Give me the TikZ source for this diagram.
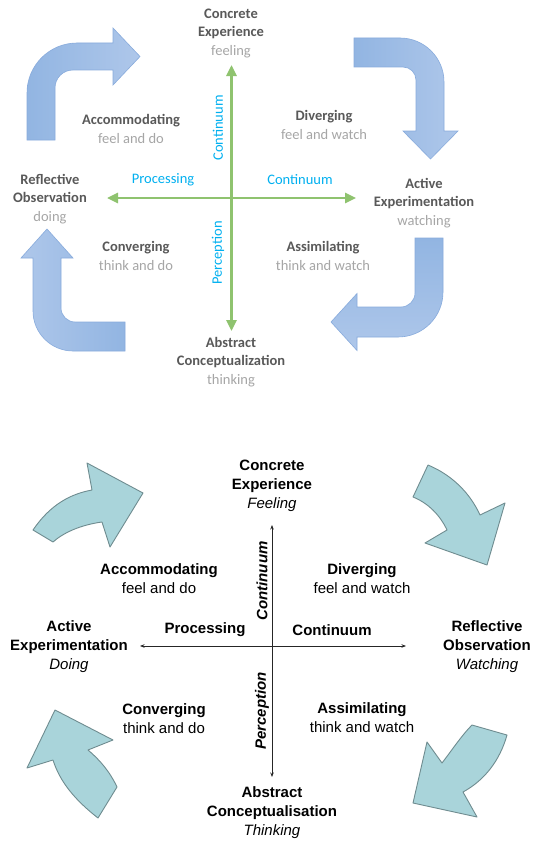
\documentclass[tikz,border=0pt]{standalone}
\usepackage{fontspec}
\setmainfont{Liberation Sans}
\newfontfamily\calibrifont{Carlito}
\usetikzlibrary{arrows.meta}

\definecolor{lblgray}{HTML}{595959}
\definecolor{ltgray}{HTML}{A6A6A6}
\definecolor{cyanlbl}{HTML}{00B0F0}
\definecolor{axisgreen}{HTML}{8FC36F}
\definecolor{bluedark}{HTML}{92B5E2}
\definecolor{bluelight}{HTML}{AEC7EA}
\definecolor{blueedge}{HTML}{88ABDC}
\definecolor{tealfill}{HTML}{A9D4DA}
\definecolor{tealedge}{HTML}{6F8C90}

\begin{document}
\begin{tikzpicture}[x=1pt,y=-1pt,
  toplbl/.style={font=\calibrifont\fontsize{14.5}{18.5}\selectfont\bfseries,
                 text=lblgray, align=center, inner sep=0pt},
  topaxis/.style={font=\calibrifont\fontsize{14.5}{17}\selectfont,
                  text=cyanlbl, inner sep=0pt},
  greenaxis/.style={draw=axisgreen, line width=2.6pt,
                    {Triangle[length=11pt,width=10pt]}-{Triangle[length=11pt,width=10pt]}},
  bentarrow/.style={draw=blueedge, line width=0.6pt},
  botlbl/.style={font=\fontsize{15}{19}\selectfont\bfseries,
                 text=black, align=center, inner sep=0pt},
  botaxis/.style={font=\fontsize{15}{18}\selectfont\bfseries, text=black, inner sep=0pt},
  botrot/.style={font=\fontsize{15}{18}\selectfont\bfseries\itshape, text=black,
                 inner sep=0pt, rotate=90},
  blackaxis/.style={draw=black!85, line width=0.8pt,
                    {Stealth[length=4.5pt,width=3.5pt]}-{Stealth[length=4.5pt,width=3.5pt]}},
  curvedarrow/.style={fill=tealfill, draw=tealedge, line width=0.9pt, line join=round}
]
\useasboundingbox[fill=white] (0,0) rectangle (534,843);

% ---------------- upper cycle: blue bent arrows ----------------
\path[bentarrow, left color=bluedark, right color=bluelight]
  (27,140) -- (27,93) .. controls (27,65.4) and (49.4,43) .. (77,43)
  -- (113,43) -- (113,28) -- (140,56.5) -- (113,85) -- (113,70)
  -- (73,70) .. controls (63,70) and (55,78) .. (55,88) -- (55,140) -- cycle;

\path[bentarrow, left color=bluedark, right color=bluelight]
  (354,38) -- (400,38) .. controls (424.3,38) and (444,57.7) .. (444,82)
  -- (444,131) -- (458,131) -- (430.5,159) -- (403,131) -- (416,131)
  -- (416,80) .. controls (416,72.8) and (410.2,67) .. (403,67) -- (354,67) -- cycle;

\path[bentarrow, top color=bluedark, bottom color=bluelight]
  (415,238) -- (443,238) -- (443,292) .. controls (443,316.9) and (422.9,337) .. (398,337)
  -- (357,337) -- (357,350.5) -- (331,322) -- (357,293.5) -- (357,307)
  -- (401,307) .. controls (408.7,307) and (415,300.7) .. (415,293) -- cycle;

\path[bentarrow, left color=bluelight, right color=bluedark]
  (125,322) -- (125,351) -- (73,351) .. controls (51,351) and (33,333) .. (33,311)
  -- (33,258) -- (21,258) -- (47,229) -- (73,258) -- (61,258)
  -- (61,308) .. controls (61,315.7) and (67.3,322) .. (75,322) -- cycle;

% ---------------- upper cycle: axes ----------------
\coordinate (gtop) at (231.5,65);
\coordinate (gbot) at (231.5,331);
\coordinate (gleft) at (107,198);
\coordinate (gright) at (356,198);
\draw[greenaxis] (gtop) -- (gbot);
\draw[greenaxis] (gleft) -- (gright);

% ---------------- upper cycle: labels ----------------
\node[toplbl] (ce) at (231,33) {Concrete\\Experience\\{\color{ltgray}\mdseries feeling}};
\node[toplbl] (ro) at (50,199) {Reflective\\Observation\\{\color{ltgray}\mdseries doing}};
\node[toplbl] (ae) at (424,203) {Active\\Experimentation\\{\color{ltgray}\mdseries watching}};
\node[toplbl] (ac) at (231,362) {Abstract\\Conceptualization\\{\color{ltgray}\mdseries thinking}};

\node[toplbl] (accom) at (131,129) {Accommodating\\{\color{ltgray}\mdseries feel and do}};
\node[toplbl] (div) at (324,125) {Diverging\\{\color{ltgray}\mdseries feel and watch}};
\node[toplbl] (conv) at (136,256) {Converging\\{\color{ltgray}\mdseries think and do}};
\node[toplbl] (assim) at (323,256) {Assimilating\\{\color{ltgray}\mdseries think and watch}};

\node[topaxis] (proc) at (163,180) {Processing};
\node[topaxis] (contr) at (300,180) {Continuum};
\node[topaxis, rotate=90] (contv) at (218,128) {Continuum};
\node[topaxis, rotate=90] (perc) at (218,253) {Perception};

% ---------------- lower cycle: curved arrows ----------------
\path[curvedarrow]
  (33,530) .. controls (50,505) and (70,494) .. (92,490)
  -- (87,463) -- (143,493) -- (110,547) -- (102,522)
  .. controls (80,525) and (63,533) .. (53,542) -- cycle;

\path[curvedarrow]
  (428,465) .. controls (452,475) and (470,493) .. (480,515)
  -- (505,503) -- (487,565) -- (425,543) -- (447,530)
  .. controls (440,515) and (428,503) .. (413,497) -- cycle;

\path[curvedarrow]
  (472,725) -- (507,735) .. controls (500,760) and (485,780) .. (463,792)
  -- (477,817) -- (413,803) -- (427,742) -- (442,763)
  .. controls (452,750) and (462,735) .. (472,725) -- cycle;

\path[curvedarrow]
  (55,710) -- (113,740) -- (88,750) .. controls (100,760) and (110,772) .. (117,787)
  -- (98,818) .. controls (75,800) and (60,782) .. (53,760)
  -- (27,768) -- cycle;

% ---------------- lower cycle: axes ----------------
\coordinate (btop) at (272,525);
\coordinate (bbot) at (272,777);
\coordinate (bleft) at (140,646);
\coordinate (bright) at (406,646);
\draw[blackaxis] (btop) -- (bbot);
\draw[blackaxis] (bleft) -- (bright);

% ---------------- lower cycle: labels ----------------
\node[botlbl] (ce2) at (272,486) {Concrete\\Experience\\{\mdseries\itshape Feeling}};
\node[botlbl] (ae2) at (69,647) {Active\\Experimentation\\{\mdseries\itshape Doing}};
\node[botlbl] (ro2) at (487,647) {Reflective\\Observation\\{\mdseries\itshape Watching}};
\node[botlbl] (ac2) at (272,813) {Abstract\\Conceptualisation\\{\mdseries\itshape Thinking}};

\node[botlbl] (accom2) at (159,579) {Accommodating\\{\mdseries feel and do}};
\node[botlbl] (div2) at (362,579) {Diverging\\{\mdseries feel and watch}};
\node[botlbl] (conv2) at (164,719) {Converging\\{\mdseries think and do}};
\node[botlbl] (assim2) at (362,718) {Assimilating\\{\mdseries think and watch}};

\node[botaxis] (proc2) at (205,630) {Processing};
\node[botaxis] (cont2) at (332,630) {Continuum};
\node[botrot] (contv2) at (262,581) {Continuum};
\node[botrot] (perc2) at (262,711) {Perception};
\end{tikzpicture}
\end{document}
